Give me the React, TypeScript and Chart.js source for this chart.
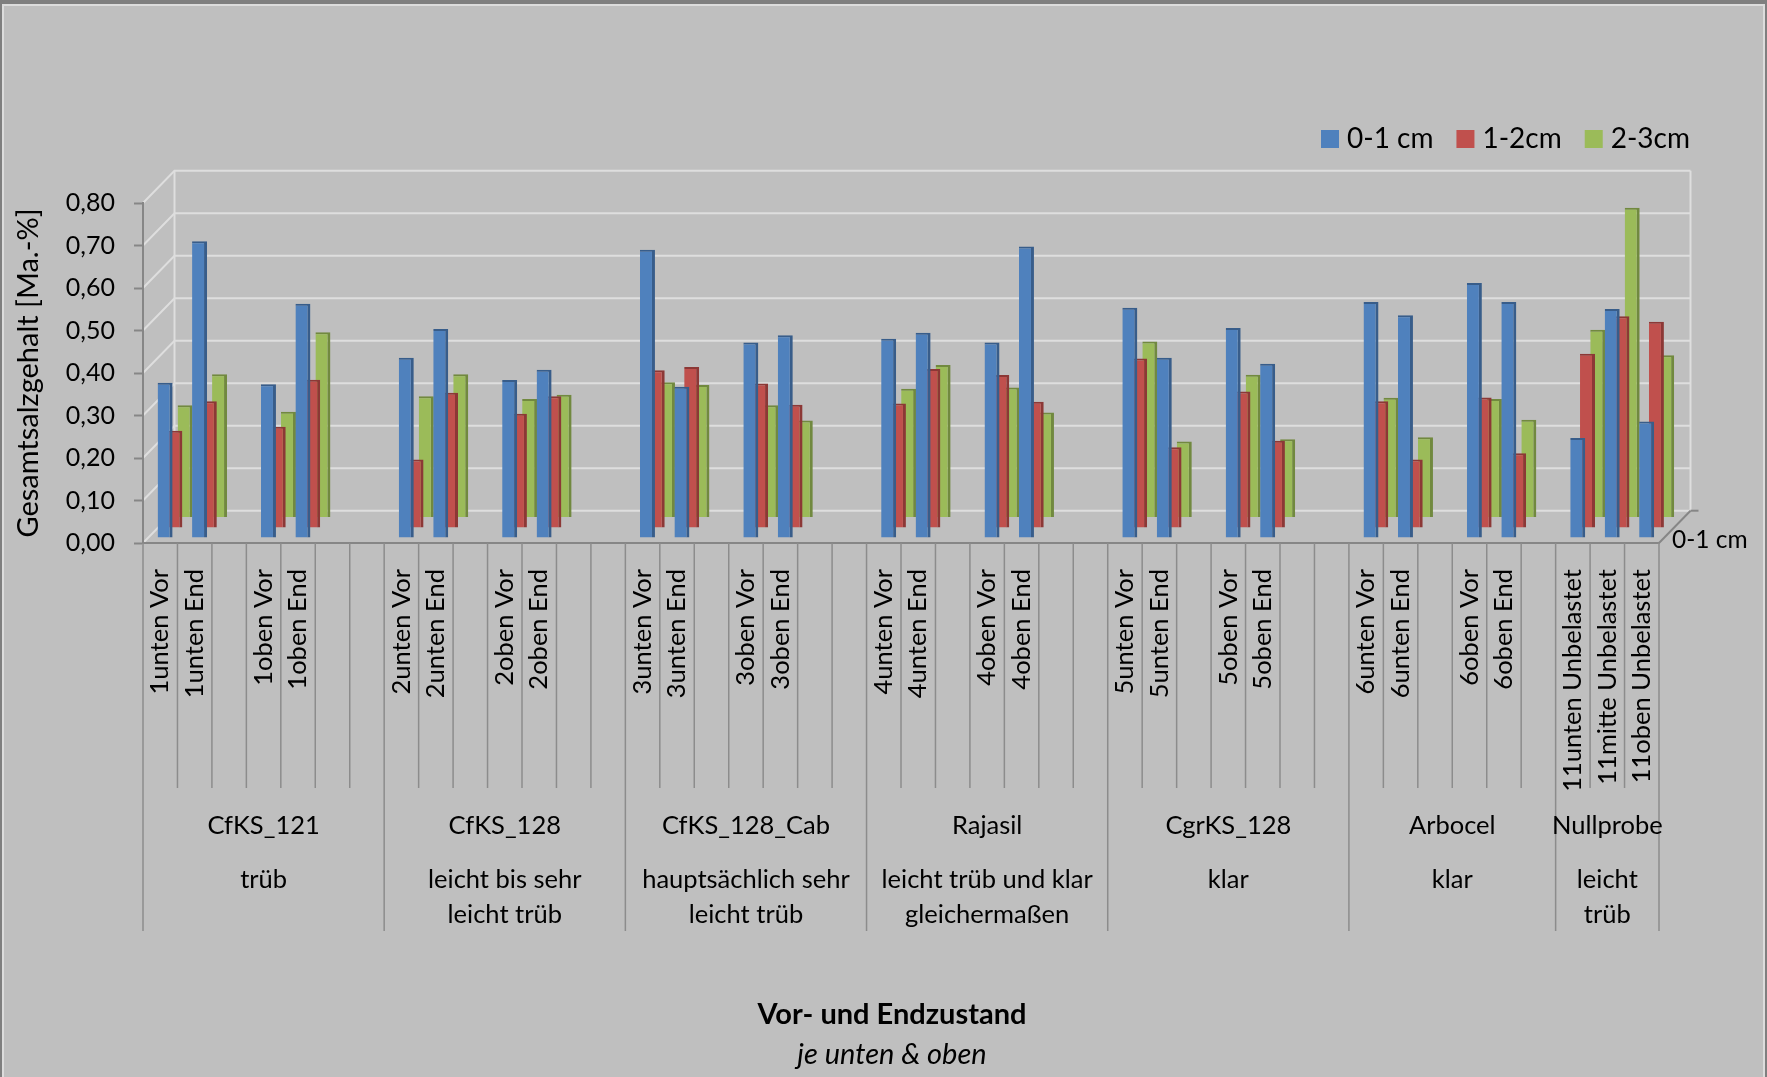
import { useEffect, useRef } from 'react';
import { Chart, registerables } from 'chart.js';

Chart.register(...registerables);

// Sample slots along the category axis; empty entries are spacer slots
const sampleLabels: string[] = [
  '1unten Vor', '1unten End', '', '1oben Vor', '1oben End', '', '',
  '2unten Vor', '2unten End', '', '2oben Vor', '2oben End', '', '',
  '3unten Vor', '3unten End', '', '3oben Vor', '3oben End', '', '',
  '4unten Vor', '4unten End', '', '4oben Vor', '4oben End', '', '',
  '5unten Vor', '5unten End', '', '5oben Vor', '5oben End', '', '',
  '6unten Vor', '6unten End', '', '6oben Vor', '6oben End', '',
  '11unten Unbelastet', '11mitte Unbelastet', '11oben Unbelastet',
];

// Product groups, their turbidity note and how many slots each spans
const groupNames: string[] = ['CfKS_121', 'CfKS_128', 'CfKS_128_Cab', 'Rajasil', 'CgrKS_128', 'Arbocel', 'Nullprobe'];
const groupNotes: string[][] = [
  ['trüb'],
  ['leicht bis sehr', 'leicht trüb'],
  ['hauptsächlich sehr', 'leicht trüb'],
  ['leicht trüb und klar', 'gleichermaßen'],
  ['klar'],
  ['klar'],
  ['leicht', 'trüb'],
];
const groupSlots: number[] = [7, 7, 7, 7, 7, 6, 3];

// Total salt content [Ma.-%] per depth layer
const seriesNames: string[] = ['0-1 cm', '1-2cm', '2-3cm'];
const salt0to1: (number | null)[] = [
  0.365, 0.698, null, 0.362, 0.551, null, null,
  0.424, 0.492, null, 0.372, 0.396, null, null,
  0.678, 0.356, null, 0.460, 0.477, null, null,
  0.469, 0.483, null, 0.460, 0.686, null, null,
  0.542, 0.424, null, 0.494, 0.410, null, null,
  0.555, 0.524, null, 0.600, 0.555, null,
  0.235, 0.539, 0.274,
];
const salt1to2: (number | null)[] = [
  0.229, 0.298, null, 0.238, 0.349, null, null,
  0.161, 0.318, null, 0.269, 0.310, null, null,
  0.371, 0.379, null, 0.340, 0.290, null, null,
  0.293, 0.374, null, 0.360, 0.297, null, null,
  0.399, 0.190, null, 0.321, 0.205, null, null,
  0.298, 0.161, null, 0.307, 0.176, null,
  0.410, 0.498, 0.485,
];
const salt2to3: (number | null)[] = [
  0.264, 0.337, null, 0.249, 0.436, null, null,
  0.285, 0.337, null, 0.279, 0.289, null, null,
  0.318, 0.312, null, 0.264, 0.228, null, null,
  0.303, 0.359, null, 0.306, 0.247, null, null,
  0.414, 0.179, null, 0.336, 0.184, null, null,
  0.282, 0.189, null, 0.279, 0.230, null,
  0.442, 0.729, 0.382,
];

const yMax = 0.8;
const yStep = 0.1;

const axisTitle = 'Gesamtsalzgehalt [Ma.-%]';
const xTitle = 'Vor- und Endzustand';
const xSubtitle = 'je unten & oben';

const FONT = 'Lato, "Open Sans", sans-serif';
const faceColors = ['#4F81BD', '#C0504D', '#9BBB59'];
const sideColors = ['#385D8A', '#8C3836', '#71893F'];

// oblique depth of the plot box and where each series sits in it
const DEPTH = { dx: 31.5, dy: -32.3 };
const SERIES_DEPTH = [0.155, 0.465, 0.79];

const depthFrame: any = {
  id: 'depthFrame',
  beforeDraw(chart: any) {
    const { ctx, chartArea: a, scales } = chart;
    const y = scales.y;
    const W = chart.width;
    const H = chart.height;
    ctx.save();
    ctx.fillStyle = '#7f7f7f';
    ctx.fillRect(0, 0, W, H);
    ctx.fillStyle = '#dcdcdc';
    ctx.fillRect(2, 4, W - 4, H - 4);
    ctx.fillStyle = '#bfbfbf';
    ctx.fillRect(4, 6, W - 8, H - 6);

    const bx0 = a.left + DEPTH.dx;
    const bx1 = a.right + DEPTH.dx;
    const line = (x1: number, y1: number, x2: number, y2: number) => {
      ctx.beginPath();
      ctx.moveTo(x1, y1);
      ctx.lineTo(x2, y2);
      ctx.stroke();
    };
    // side wall and back wall gridlines
    ctx.strokeStyle = '#dedede';
    ctx.lineWidth = 2;
    for (const t of y.ticks) {
      const py = y.getPixelForValue(t.value);
      ctx.beginPath();
      ctx.moveTo(a.left, py);
      ctx.lineTo(bx0, py + DEPTH.dy);
      ctx.lineTo(bx1, py + DEPTH.dy);
      ctx.stroke();
    }
    const wallTop = y.getPixelForValue(yMax) + DEPTH.dy;
    const wallBottom = y.getPixelForValue(0) + DEPTH.dy;
    line(bx0, wallTop, bx0, wallBottom);
    line(bx1, wallTop, bx1, wallBottom);

    // depth (series) axis
    ctx.strokeStyle = '#868686';
    ctx.lineWidth = 2;
    line(a.right, a.bottom, bx1, wallBottom);
    line(bx1, wallBottom, bx1 + 8, wallBottom);
    ctx.restore();
  },
  beforeDatasetDraw(chart: any, args: any) {
    const f = SERIES_DEPTH[args.index] ?? 0;
    chart.ctx.save();
    chart.ctx.translate(DEPTH.dx * f, DEPTH.dy * f);
  },
  afterDatasetDraw(chart: any) {
    chart.ctx.restore();
  },
  afterDraw(chart: any) {
    const { ctx, chartArea: a, scales } = chart;
    const xs = scales.x;
    const slot = xs.getPixelForValue(1) - xs.getPixelForValue(0);
    const edge = (i: number) => xs.getPixelForValue(i) - slot / 2;
    const groupEdges = [0];
    groupSlots.forEach((n) => groupEdges.push(groupEdges[groupEdges.length - 1] + n));

    ctx.save();
    // category separators
    ctx.strokeStyle = '#8c8c8c';
    ctx.lineWidth = 1.5;
    for (let i = 0; i <= sampleLabels.length; i++) {
      const isGroup = groupEdges.includes(i);
      const x = edge(i);
      ctx.beginPath();
      ctx.moveTo(x, a.bottom);
      ctx.lineTo(x, a.bottom + (isGroup ? 388 : 245));
      ctx.stroke();
    }

    // group names and notes
    ctx.fillStyle = '#000';
    ctx.textAlign = 'center';
    ctx.textBaseline = 'middle';
    ctx.font = `25.5px ${FONT}`;
    groupNames.forEach((name, g) => {
      const cx = (edge(groupEdges[g]) + edge(groupEdges[g + 1])) / 2;
      ctx.fillText(name, cx, a.bottom + 283);
      groupNotes[g].forEach((ln, k) => ctx.fillText(ln, cx, a.bottom + 337 + k * 35));
    });

    // axis title below the categories
    const tx = (a.left + a.right) / 2 - 9;
    ctx.font = `bold 29px ${FONT}`;
    ctx.fillText(xTitle, tx, a.bottom + 472);
    ctx.font = `italic 29px ${FONT}`;
    ctx.fillText(xSubtitle, tx, a.bottom + 512);

    // depth axis label (front series)
    ctx.textAlign = 'left';
    ctx.font = `24.5px ${FONT}`;
    ctx.fillText(chart.data.datasets[0].label, a.right + 13, a.bottom - 3);

    // legend
    ctx.font = `28px ${FONT}`;
    let lx = 1321;
    const ly = a.top - 64;
    chart.data.datasets.forEach((ds: any) => {
      ctx.fillStyle = ds.backgroundColor;
      ctx.fillRect(lx, ly - 9, 18, 18);
      ctx.fillStyle = '#000';
      ctx.fillText(ds.label, lx + 26, ly);
      lx += 26 + ctx.measureText(ds.label).width + 23;
    });
    ctx.restore();
  },
};

export default function App() {
  const canvasRef = useRef<HTMLCanvasElement | null>(null);

  useEffect(() => {
    const canvas = canvasRef.current;
    if (!canvas) return;
    const series = [salt0to1, salt1to2, salt2to3];
    const chart = new Chart(canvas, {
      type: 'bar',
      data: {
        labels: sampleLabels,
        datasets: series.map((values, i) => ({
          label: seriesNames[i],
          data: values,
          backgroundColor: faceColors[i],
          borderColor: sideColors[i],
          borderWidth: { top: 2, right: 3, bottom: 0, left: 0 },
          borderSkipped: false,
          grouped: false,
          categoryPercentage: 1,
          barPercentage: 0.435,
          clip: false,
        })),
      },
      options: {
        responsive: false,
        animation: false,
        events: [],
        layout: { padding: { top: 203, right: 108, bottom: 0, left: 0 } },
        plugins: {
          legend: { display: false },
          tooltip: { enabled: false },
        },
        scales: {
          x: {
            type: 'category',
            offset: true,
            grid: { display: false },
            border: { display: true, color: '#868686', width: 2 },
            ticks: {
              autoSkip: false,
              minRotation: 90,
              maxRotation: 90,
              padding: 18,
              color: '#000',
              font: { family: FONT, size: 25.5 },
            },
            afterFit: (scale: any) => {
              scale.height = 534;
            },
          },
          y: {
            min: 0,
            max: yMax,
            ticks: {
              stepSize: yStep,
              padding: 19,
              color: '#000',
              font: { family: FONT, size: 25 },
              callback: (v: any) => Number(v).toFixed(2).replace('.', ','),
            },
            grid: {
              drawOnChartArea: false,
              drawTicks: true,
              tickLength: 9,
              tickColor: '#868686',
              tickWidth: 2,
            },
            border: { display: true, color: '#868686', width: 2 },
            title: {
              display: true,
              text: axisTitle,
              color: '#000',
              font: { family: FONT, size: 29 },
              padding: { top: 11, bottom: 0 },
            },
            afterFit: (scale: any) => {
              scale.width = 143;
            },
          },
        },
      },
      plugins: [depthFrame],
    });
    return () => chart.destroy();
  }, []);

  return (
    <div style={{ position: 'absolute', left: 0, top: 0, width: 1767, height: 1077 }}>
      <canvas ref={canvasRef} width={1767} height={1077} style={{ display: 'block' }} />
    </div>
  );
}
